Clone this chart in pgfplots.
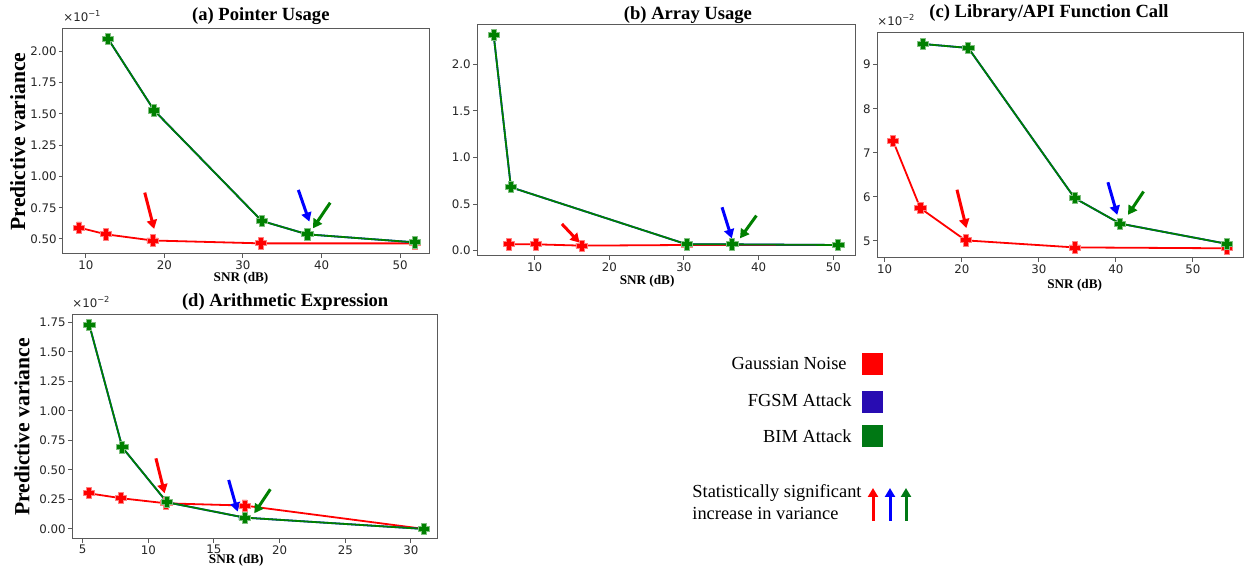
\documentclass[border=0pt]{standalone}
\usepackage{fontspec}
\setmainfont{Liberation Serif}
\newfontfamily\dejavu{DejaVu Sans}
\usepackage{pgfplots}
\pgfplotsset{compat=1.18}
\usetikzlibrary{arrows.meta}

\definecolor{cred}{RGB}{255,0,0}
\definecolor{cgreen}{RGB}{0,128,0}
\definecolor{cblue}{RGB}{0,0,255}
\definecolor{legblue}{RGB}{40,12,178}
\definecolor{leggreen}{RGB}{0,120,20}
\definecolor{framegray}{RGB}{90,90,90}

% filled plus marker (like matplotlib 'P')
\pgfdeclareplotmark{Pfill}{%
  \pgfpathmoveto{\pgfqpoint{-0.45\pgfplotmarksize}{\pgfplotmarksize}}%
  \pgfpathlineto{\pgfqpoint{0.45\pgfplotmarksize}{\pgfplotmarksize}}%
  \pgfpathlineto{\pgfqpoint{0.45\pgfplotmarksize}{0.45\pgfplotmarksize}}%
  \pgfpathlineto{\pgfqpoint{\pgfplotmarksize}{0.45\pgfplotmarksize}}%
  \pgfpathlineto{\pgfqpoint{\pgfplotmarksize}{-0.45\pgfplotmarksize}}%
  \pgfpathlineto{\pgfqpoint{0.45\pgfplotmarksize}{-0.45\pgfplotmarksize}}%
  \pgfpathlineto{\pgfqpoint{0.45\pgfplotmarksize}{-\pgfplotmarksize}}%
  \pgfpathlineto{\pgfqpoint{-0.45\pgfplotmarksize}{-\pgfplotmarksize}}%
  \pgfpathlineto{\pgfqpoint{-0.45\pgfplotmarksize}{-0.45\pgfplotmarksize}}%
  \pgfpathlineto{\pgfqpoint{-\pgfplotmarksize}{-0.45\pgfplotmarksize}}%
  \pgfpathlineto{\pgfqpoint{-\pgfplotmarksize}{0.45\pgfplotmarksize}}%
  \pgfpathlineto{\pgfqpoint{-0.45\pgfplotmarksize}{0.45\pgfplotmarksize}}%
  \pgfpathclose\pgfusepathqfillstroke}

\pgfplotsset{
  every axis title shift=0pt,
  panel/.style={
    scale only axis, clip=false,
    axis line style={framegray, line width=0.5pt},
    tick style={framegray, line width=0.5pt},
    tick align=outside, major tick length=2pt,
    xtick pos=bottom, ytick pos=left,
    ticklabel style={font=\dejavu\fontsize{5.9}{7}\selectfont, text=black!85, inner sep=1pt},
    /pgf/number format/assume math mode=true,
    scaled ticks=false,
    title style={font=\bfseries\fontsize{9.3}{11}\selectfont, anchor=center},
    xlabel style={font=\bfseries\fontsize{6.6}{8}\selectfont, anchor=center},
    ylabel style={font=\bfseries\fontsize{10.8}{13}\selectfont, anchor=center},
  },
  gn/.style={cred, line width=0.9pt, mark=Pfill, mark size=2.8pt,
    mark options={fill=cred, draw=cred!50!white, line width=0.4pt}},
  fg/.style={cblue, line width=0.9pt, mark=Pfill, mark size=2.8pt,
    mark options={fill=cblue, draw=cblue!50!white, line width=0.4pt}},
  bi/.style={cgreen, line width=0.9pt, mark=Pfill, mark size=2.8pt,
    mark options={fill=cgreen, draw=cgreen!50!white, line width=0.4pt}},
}
\tikzset{sig/.style={line width=1.5pt, -{Triangle[length=4.5pt,width=5pt]}}}

\begin{document}
\begin{tikzpicture}
\useasboundingbox (0,0) rectangle (622pt,283pt);

% (a) Pointer Usage
\begin{axis}[panel, at={(31.5pt,156pt)}, anchor=south west,
  width=183.5pt, height=112.5pt,
  xmin=7.1, xmax=53.8, ymin=0.38, ymax=2.179,
  xtick={10,20,30,40,50},
  ytick={0.5,0.75,1.0,1.25,1.5,1.75,2.0},
  yticklabel style={/pgf/number format/.cd, fixed, fixed zerofill, precision=2},
  title={(a) Pointer Usage}, title style={at={(axis description cs:0.539,1.058)}},
  xlabel={SNR (dB)}, xlabel style={at={(axis description cs:0.485,-0.11)}},
  ylabel={Predictive variance}, ylabel style={at={(axis description cs:-0.123,0.5)}},
]
\addplot[gn] coordinates {(9.15,0.591)(12.6,0.537)(18.5,0.488)(32.3,0.465)(51.9,0.465)};
\addplot[fg] coordinates {(12.85,2.099)(18.7,1.528)(32.4,0.644)(38.2,0.537)(51.9,0.473)};
\addplot[bi] coordinates {(12.85,2.099)(18.7,1.528)(32.4,0.644)(38.2,0.537)(51.9,0.473)};
\draw[sig, cred] (17.5,0.871) -- (18.7,0.58);
\draw[sig, cblue] (37.05,0.892) -- (38.45,0.639);
\draw[sig, cgreen] (41.1,0.79) -- (38.9,0.585);
\node[anchor=south west, inner sep=0pt, font=\dejavu\fontsize{5.9}{7}\selectfont, text=black!85]
  at (axis description cs:0,1.03) {×10\textsuperscript{−1}};
\end{axis}

% (b) Array Usage
\begin{axis}[panel, at={(238.5pt,155pt)}, anchor=south west,
  width=189pt, height=115.5pt,
  xmin=2.29, xmax=52.9, ymin=-0.057, ymax=2.42,
  xtick={10,20,30,40,50},
  ytick={0,0.5,1.0,1.5,2.0},
  yticklabel style={/pgf/number format/.cd, fixed, fixed zerofill, precision=1},
  title={(b) Array Usage}, title style={at={(axis description cs:0.558,1.043)}},
  xlabel={SNR (dB)}, xlabel style={at={(axis description cs:0.45,-0.11)}},
]
\addplot[gn] coordinates {(6.61,0.068)(10.18,0.068)(16.29,0.054)(30.37,0.061)(50.67,0.061)};
\addplot[fg] coordinates {(4.52,2.315)(6.83,0.68)(30.37,0.068)(36.48,0.068)(50.67,0.061)};
\addplot[bi] coordinates {(4.52,2.315)(6.83,0.68)(30.37,0.068)(36.48,0.068)(50.67,0.061)};
\draw[sig, cred] (13.66,0.286) -- (16.02,0.086);
\draw[sig, cblue] (35.1,0.465) -- (36.4,0.132);
\draw[sig, cgreen] (39.7,0.376) -- (37.5,0.132);
\end{axis}

% (c) Library/API Function Call
\begin{axis}[panel, at={(438.5pt,154pt)}, anchor=south west,
  width=183pt, height=112.5pt,
  xmin=9.0, xmax=56.5, ymin=4.61, ymax=9.72,
  xtick={10,20,30,40,50},
  ytick={5,6,7,8,9},
  title={(c) Library/API Function Call}, title style={at={(axis description cs:0.47,1.089)}},
  xlabel={SNR (dB)}, xlabel style={at={(axis description cs:0.54,-0.12)}},
]
\addplot[gn] coordinates {(11.08,7.27)(14.63,5.74)(20.5,5.01)(34.65,4.85)(54.45,4.83)};
\addplot[fg] coordinates {(14.97,9.47)(20.85,9.38)(34.65,5.97)(40.57,5.39)(54.45,4.93)};
\addplot[bi] coordinates {(14.97,9.47)(20.85,9.38)(34.65,5.97)(40.57,5.39)(54.45,4.93)};
\draw[sig, cred] (19.38,6.16) -- (20.6,5.29);
\draw[sig, cblue] (38.97,6.33) -- (40.18,5.59);
\draw[sig, cgreen] (43.6,6.12) -- (41.57,5.59);
\node[anchor=south west, inner sep=0pt, font=\dejavu\fontsize{5.9}{7}\selectfont, text=black!85]
  at (axis description cs:0,1.03) {×10\textsuperscript{−2}};
\end{axis}

% (d) Arithmetic Expression
\begin{axis}[panel, at={(36pt,13.5pt)}, anchor=south west,
  width=182.5pt, height=112pt,
  xmin=4.19, xmax=31.98, ymin=-0.085, ymax=1.812,
  xtick={5,10,15,20,25,30},
  ytick={0,0.25,0.5,0.75,1.0,1.25,1.5,1.75},
  yticklabel style={/pgf/number format/.cd, fixed, fixed zerofill, precision=2},
  title={(d) Arithmetic Expression}, title style={at={(axis description cs:0.584,1.058)}},
  xlabel={SNR (dB)}, xlabel style={at={(axis description cs:0.45,-0.094)}},
  ylabel={Predictive variance}, ylabel style={at={(axis description cs:-0.137,0.5)}},
]
\addplot[gn] coordinates {(5.46,0.302)(7.94,0.26)(11.37,0.217)(17.33,0.198)(31.0,0.0)};
\addplot[fg] coordinates {(5.51,1.727)(8.02,0.691)(11.42,0.226)(17.33,0.096)(31.0,0.0)};
\addplot[bi] coordinates {(5.51,1.727)(8.02,0.691)(11.42,0.226)(17.33,0.096)(31.0,0.0)};
\draw[sig, cred] (10.58,0.598) -- (11.24,0.302);
\draw[sig, cblue] (16.12,0.415) -- (16.8,0.147);
\draw[sig, cgreen] (19.29,0.336) -- (18.07,0.133);
\node[anchor=south west, inner sep=0pt, font=\dejavu\fontsize{5.9}{7}\selectfont, text=black!85]
  at (axis description cs:0,1.03) {×10\textsuperscript{−2}};
\end{axis}

% legend
\begin{scope}[font=\fontsize{9.2}{11}\selectfont]
\node[anchor=mid east, inner sep=0pt] at (423.5pt,100.5pt) {Gaussian Noise};
\node[anchor=mid east, inner sep=0pt] at (426pt,82pt) {FGSM Attack};
\node[anchor=mid east, inner sep=0pt] at (426pt,64pt) {BIM Attack};
\fill[cred] (431pt,95.5pt) rectangle (441.5pt,106.5pt);
\fill[legblue] (431pt,76.5pt) rectangle (441.5pt,87.5pt);
\fill[leggreen] (431pt,59.5pt) rectangle (441.5pt,70.5pt);
\node[anchor=base west, inner sep=0pt] at (346pt,34pt) {Statistically significant};
\node[anchor=base west, inner sep=0pt] at (346pt,23pt) {increase in variance};
\draw[sig, cred] (436.5pt,22.5pt) -- (436.5pt,39pt);
\draw[sig, cblue] (445pt,22.5pt) -- (445pt,39pt);
\draw[sig, leggreen] (453pt,22.5pt) -- (453pt,39pt);
\end{scope}
\end{tikzpicture}
\end{document}
